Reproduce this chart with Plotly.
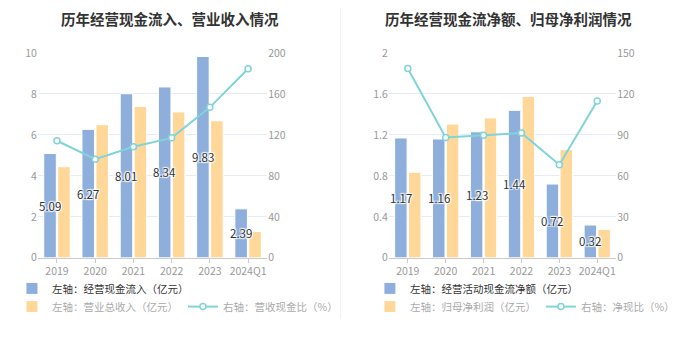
import plotly.graph_objects as go

categories = ["2019", "2020", "2021", "2022", "2023", "2024Q1"]

# Left chart
cash_inflow = [5.09, 6.27, 8.01, 8.34, 9.83, 2.39]
revenue = [4.45, 6.50, 7.39, 7.12, 6.69, 1.28]
cash_rev_ratio = [114.3, 96.2, 108.4, 117.1, 146.9, 184.6]

# Right chart
net_cash = [1.17, 1.16, 1.23, 1.44, 0.72, 0.32]
net_profit = [0.835, 1.306, 1.366, 1.575, 1.056, 0.276]
net_cash_ratio = [138.7, 88.1, 89.8, 91.4, 68.2, 114.8]

left_ticks = [0, 2, 4, 6, 8, 10]
left_ticks_r = [0, 40, 80, 120, 160, 200]
right_ticks = [0, 0.4, 0.8, 1.2, 1.6, 2]
right_tick_text = ["0", "0.4", "0.8", "1.2", "1.6", "2"]
right_ticks_r = [0, 30, 60, 90, 120, 150]

BLUE = "#8eaedc"
ORANGE = "#ffd899"
TEAL = "#80d4d8"
FONT = "Noto Sans CJK SC"
W, H = 680, 349
BARGAP, GROUPGAP = 0.27, 0.1

shadow = "1px 1px 1px #fff, -1px -1px 1px #fff, 1px -1px 1px #fff, -1px 1px 1px #fff"

xd1 = [38 / W, 268 / W]
xd2 = [390 / W, 618 / W]
ydom = [1 - 261 / H, 1 - 47 / H]

fig = go.Figure()
annotations = []

def add_chart(xa, ya, ya2, dom, blue, orange, ratio, names, legends):
    fig.add_trace(go.Bar(
        x=categories, y=blue, name=names[0], xaxis=xa, yaxis=ya,
        marker=dict(color=BLUE, line=dict(color="#ffffff", width=1)),
        legend=legends[0], hoverinfo="skip"))
    fig.add_trace(go.Bar(
        x=categories, y=orange, name=names[1], xaxis=xa, yaxis=ya,
        marker=dict(color=ORANGE, line=dict(color="#ffffff", width=1)),
        legend=legends[1], hoverinfo="skip"))
    fig.add_trace(go.Scatter(
        x=categories, y=ratio, name=names[2], xaxis=xa, yaxis=ya2,
        mode="lines+markers", line=dict(color=TEAL, width=2),
        marker=dict(symbol="circle", size=6, color="#ffffff",
                    line=dict(color=TEAL, width=1.5)),
        legend=legends[1], hoverinfo="skip"))
    # value labels centred on the first bar of each group (x = category index)
    cat_px = (dom[1] - dom[0]) * W / len(categories)
    shift = -cat_px * (1 - BARGAP) / 4
    for i, v in enumerate(blue):
        annotations.append(dict(
            x=i, y=v / 2, xref=xa, yref=ya, text=f"{v:.2f}", showarrow=False,
            xshift=shift, xanchor="center", yanchor="middle",
            font=dict(size=11.5, color="#333333", family=FONT, shadow=shadow)))

add_chart("x", "y", "y2", xd1, cash_inflow, revenue, cash_rev_ratio,
          ["左轴：经营现金流入（亿元）", "左轴：营业总收入（亿元）", "右轴：营收现金比（%）"],
          ["legend", "legend2"])
add_chart("x2", "y3", "y4", xd2, net_cash, net_profit, net_cash_ratio,
          ["左轴：经营活动现金流净额（亿元）", "左轴：归母净利润（亿元）", "右轴：净现比（%）"],
          ["legend3", "legend4"])

tickfont = dict(color="#999999", size=10.5, family=FONT)
xaxis_common = dict(type="category", showgrid=False, showline=True, linecolor="#cccccc",
                    linewidth=1, ticks="outside", ticklen=4, tickcolor="#cccccc",
                    tickfont=tickfont, fixedrange=True, range=[-0.5, 5.5])
yaxis_common = dict(showline=False, zeroline=False, gridcolor="#e6ebf5", gridwidth=1,
                    tickfont=tickfont, fixedrange=True, ticks="")

legend_common = dict(orientation="h", bgcolor="rgba(0,0,0,0)", itemclick=False,
                     itemdoubleclick=False, xanchor="left", yanchor="middle",
                     tracegroupgap=0, itemwidth=30)

annotations += [
    dict(text="<b>历年经营现金流入、营业收入情况</b>", x=170 / W, y=1 - 11 / H,
         xref="paper", yref="paper", showarrow=False, xanchor="center", yanchor="middle",
         font=dict(size=14.5, color="#333333", family=FONT)),
    dict(text="<b>历年经营现金流净额、归母净利润情况</b>", x=510 / W, y=1 - 11 / H,
         xref="paper", yref="paper", showarrow=False, xanchor="center", yanchor="middle",
         font=dict(size=14.5, color="#333333", family=FONT)),
]

fig.update_layout(
    width=W, height=H, margin=dict(l=0, r=0, t=0, b=0),
    paper_bgcolor="#ffffff", plot_bgcolor="#ffffff",
    font=dict(family=FONT, color="#333333"),
    barmode="group", bargap=BARGAP, bargroupgap=GROUPGAP,
    showlegend=True,
    xaxis=dict(domain=xd1, anchor="y", **xaxis_common),
    xaxis2=dict(domain=xd2, anchor="y3", **xaxis_common),
    yaxis=dict(domain=ydom, anchor="x", range=[0, 10], tickvals=left_ticks, **yaxis_common),
    yaxis2=dict(domain=ydom, anchor="x", overlaying="y", side="right", range=[0, 200],
                tickvals=left_ticks_r, showgrid=False, zeroline=False,
                tickfont=tickfont, fixedrange=True),
    yaxis3=dict(domain=ydom, anchor="x2", range=[0, 2], tickvals=right_ticks,
                ticktext=right_tick_text, **yaxis_common),
    yaxis4=dict(domain=ydom, anchor="x2", overlaying="y3", side="right", range=[0, 150],
                tickvals=right_ticks_r, showgrid=False, zeroline=False,
                tickfont=tickfont, fixedrange=True),
    legend=dict(x=12 / W, y=1 - 293 / H, font=dict(size=10.5, color="#333333", family=FONT),
                **legend_common),
    legend2=dict(x=12 / W, y=1 - 312 / H, font=dict(size=10.5, color="#aaaaaa", family=FONT),
                 **legend_common),
    legend3=dict(x=371 / W, y=1 - 293 / H, font=dict(size=10.5, color="#333333", family=FONT),
                 **legend_common),
    legend4=dict(x=371 / W, y=1 - 312 / H, font=dict(size=10.5, color="#aaaaaa", family=FONT),
                 **legend_common),
    annotations=annotations,
    shapes=[dict(type="line", xref="paper", yref="paper", x0=341.5 / W, x1=341.5 / W,
                 y0=1 - 325 / H, y1=1, line=dict(color="#f0f0f0", width=1))],
)

reset_css = (
    "var s=document.createElement('style');"
    "s.textContent='html,body{margin:0!important;padding:0!important;overflow:hidden!important;}';"
    "document.head.appendChild(s);"
)
fig.write_html("out.html", post_script=reset_css)
